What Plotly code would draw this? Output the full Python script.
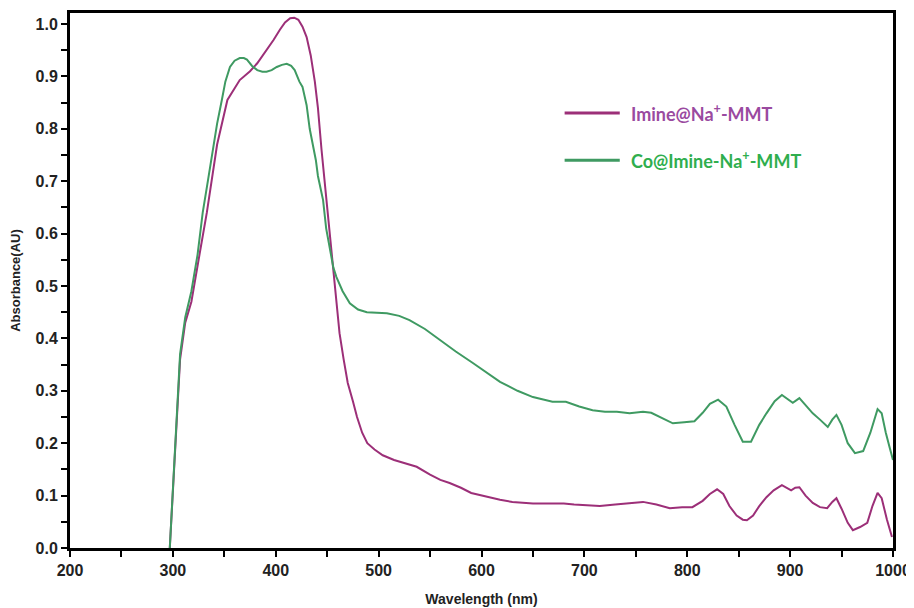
import plotly.graph_objects as go

# Imine@Na+-MMT
wl_imine = [297, 303, 307, 312, 318, 325, 333, 343, 353, 365, 375, 382, 391, 398, 404, 409, 414, 418, 422, 426,
            430, 434, 438, 441, 444.5, 447, 450, 453, 456, 459, 462, 466, 470, 475, 479, 484, 489, 496, 504, 515,
            525, 537, 550, 560, 569, 580, 590, 600, 610, 618, 630, 640, 650, 665, 680, 690, 700, 715, 730, 745,
            757, 770, 783, 795, 805, 815, 822, 829, 835, 841, 848, 854, 858, 864, 870, 877, 884, 892, 897, 901,
            905, 909, 915, 922, 929, 936, 941, 945, 950, 956, 961, 968, 975, 980, 985, 989, 994, 997, 999]
abs_imine = [0.0, 0.22, 0.36, 0.43, 0.47, 0.55, 0.64, 0.77, 0.855, 0.893, 0.91, 0.925, 0.95, 0.97, 0.989, 1.003, 1.011, 1.012, 1.008, 0.995,
             0.975, 0.94, 0.89, 0.84, 0.76, 0.71, 0.664, 0.60, 0.536, 0.47, 0.41, 0.36, 0.315, 0.28, 0.25, 0.22, 0.20, 0.188, 0.177, 0.168,
             0.162, 0.155, 0.14, 0.13, 0.124, 0.115, 0.105, 0.10, 0.095, 0.092, 0.088, 0.086, 0.085, 0.085, 0.085, 0.083, 0.082, 0.080, 0.083, 0.085,
             0.088, 0.083, 0.076, 0.078, 0.078, 0.09, 0.103, 0.112, 0.103, 0.08, 0.062, 0.054, 0.053, 0.062, 0.08, 0.097, 0.11, 0.12, 0.114, 0.11,
             0.115, 0.116, 0.10, 0.086, 0.078, 0.076, 0.088, 0.095, 0.075, 0.048, 0.034, 0.04, 0.048, 0.08, 0.105, 0.095, 0.055, 0.035, 0.021]

# Co@Imine-Na+-MMT
wl_co = [297, 303, 307, 312, 318, 324, 329, 334, 339, 343, 347.6, 351, 355.5, 360, 365, 369, 372, 377, 382, 387,
         391, 396, 401, 406, 410.7, 415, 418.4, 423, 426, 430, 433, 436, 439, 441, 446, 449, 452.6, 456, 459, 465,
         472, 480, 488.6, 500, 508, 520, 530, 545, 559.6, 575, 591.6, 605, 618, 635, 650, 669, 682, 695, 708, 720,
         731.6, 744, 757, 765, 775, 786, 797, 807, 815, 822, 830, 838, 846, 854, 862, 870, 877, 885, 892, 897,
         902.6, 909, 915, 922, 929, 936.6, 941, 945, 950, 956, 963, 971, 978, 985, 989, 993, 997, 1000]
abs_co = [0.0, 0.23, 0.37, 0.44, 0.49, 0.56, 0.64, 0.70, 0.76, 0.81, 0.855, 0.89, 0.918, 0.93, 0.935, 0.935, 0.932, 0.92, 0.912, 0.909,
          0.909, 0.912, 0.918, 0.922, 0.924, 0.92, 0.912, 0.89, 0.88, 0.845, 0.80, 0.77, 0.74, 0.71, 0.664, 0.61, 0.569, 0.535, 0.517, 0.49,
          0.467, 0.455, 0.45, 0.449, 0.448, 0.443, 0.435, 0.418, 0.397, 0.375, 0.353, 0.334, 0.317, 0.30, 0.288, 0.279, 0.279, 0.27, 0.263, 0.26,
          0.26, 0.257, 0.26, 0.258, 0.248, 0.238, 0.24, 0.242, 0.258, 0.275, 0.283, 0.27, 0.235, 0.203, 0.203, 0.235, 0.257, 0.28, 0.292, 0.285,
          0.277, 0.286, 0.272, 0.257, 0.245, 0.231, 0.245, 0.254, 0.235, 0.2, 0.181, 0.185, 0.22, 0.265, 0.257, 0.22, 0.19, 0.168]

names = ["Imine@Na<sup>+</sup>-MMT", "Co@Imine-Na<sup>+</sup>-MMT"]
line_colors = ["#9c2f78", "#3f9a62"]
text_colors = ["#9a4aa0", "#2fae4e"]

fig = go.Figure()
fig.add_trace(go.Scatter(x=wl_imine, y=abs_imine, mode="lines", name=names[0],
                         line=dict(color=line_colors[0], width=2), showlegend=False))
fig.add_trace(go.Scatter(x=wl_co, y=abs_co, mode="lines", name=names[1],
                         line=dict(color=line_colors[1], width=2), showlegend=False))

# manual legend
legend_y = [0.813, 0.725]
for i in range(2):
    fig.add_shape(type="line", xref="paper", yref="paper", x0=0.601, x1=0.668,
                  y0=legend_y[i], y1=legend_y[i], line=dict(color=line_colors[i], width=3))
    fig.add_annotation(xref="paper", yref="paper", x=0.679, y=legend_y[i], text=names[i],
                       showarrow=False, xanchor="left", yanchor="middle",
                       font=dict(family="Lato", size=18, color=text_colors[i], weight="bold"))

tickfont = dict(family="Liberation Sans", size=16, color="#222222", weight="bold")
fig.update_xaxes(range=[200, 1000], dtick=100, tick0=200, showgrid=False, zeroline=False, automargin=False,
                 showline=True, linecolor="black", linewidth=3, mirror=True,
                 ticks="outside", ticklen=6, tickwidth=2, tickcolor="black", tickfont=tickfont,
                 minor=dict(dtick=50, ticks="outside", ticklen=6, tickwidth=2, tickcolor="black"),
                 title=dict(text="Wavelength (nm)", standoff=16,
                            font=dict(family="Liberation Sans", size=14, color="#222222", weight="bold")))
fig.update_yaxes(range=[0, 1.021], dtick=0.1, tick0=0, tickformat=".1f", showgrid=False, zeroline=False,
                 automargin=False,
                 showline=True, linecolor="black", linewidth=3, mirror=True,
                 ticks="outside", ticklen=6, tickwidth=2, tickcolor="black", tickfont=tickfont,
                 minor=dict(dtick=0.05, ticks="outside", ticklen=6, tickwidth=2, tickcolor="black"),
                 title=dict(text="Absorbance(AU)", standoff=12,
                            font=dict(family="Liberation Sans", size=13, color="#222222", weight="bold")))

# page body adds an 8px offset, so the figure is sized/margined to compensate
fig.update_layout(width=906, height=600, margin=dict(l=62, r=21, t=5, b=60),
                  plot_bgcolor="white", paper_bgcolor="white")

fig.write_html("out.html", post_script="document.body.style.overflow='hidden';")
